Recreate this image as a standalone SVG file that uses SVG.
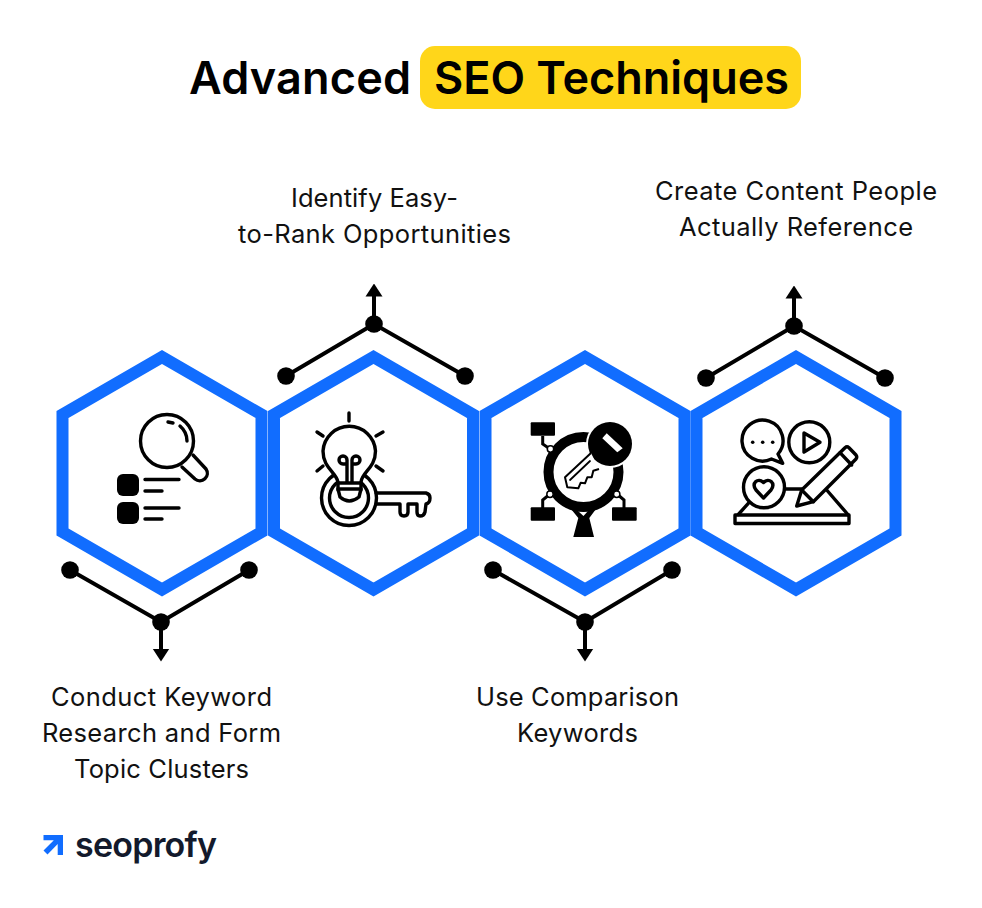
<svg xmlns="http://www.w3.org/2000/svg" width="982" height="908" viewBox="0 0 982 908">
<style>
.hex{fill:#fff;stroke:#116dff;stroke-width:12;stroke-linejoin:miter}
.lab{font-family:"Inter","Liberation Sans",sans-serif;font-size:25.500px;font-weight:400;fill:#111;text-anchor:middle}
.ttl{font-family:"Inter","Liberation Sans",sans-serif;font-size:45px;font-weight:600;fill:#000}
.c{fill:none;stroke:#000;stroke-width:4}
.i{fill:none;stroke:#000;stroke-width:3.400;stroke-linecap:round;stroke-linejoin:round}
.w{fill:#fff;stroke:#000;stroke-width:3.400;stroke-linejoin:round}
.k{fill:#000}
</style>
<defs>
<polygon id="hexa" class="hex" points="0,-116 99.500,-58.500 99.500,59 0,116.500 -99.500,59 -99.500,-58.500"/>
<marker id="ah" viewBox="0 0 13 18" refX="0.500" refY="9" markerWidth="13" markerHeight="18" markerUnits="userSpaceOnUse" orient="auto"><path d="M0 0.500L13 9L0 17.500Z" fill="#000"/></marker>
</defs>
<rect width="982" height="908" fill="#fff"/>
<g id="title">
<rect x="420" y="46" width="381" height="63" rx="15" fill="#ffd61a"/>
<text class="ttl" x="189" y="94" textLength="222">Advanced</text>
<text class="ttl" x="434" y="94" textLength="355">SEO Techniques</text>
</g>
<g id="connectors">
<path class="c" d="M70 570L161 622L249 570M161 622V649" marker-end="url(#ah)"/>
<path class="c" d="M286 376L374 324L465 376M374 324V296" marker-end="url(#ah)"/>
<path class="c" d="M493 570L585 622L672 570M585 622V649" marker-end="url(#ah)"/>
<path class="c" d="M706 378L794 326L885 378M794 326V298" marker-end="url(#ah)"/>
<g class="k">
<circle cx="70" cy="570" r="8.800"/><circle cx="249" cy="570" r="8.800"/><circle cx="161" cy="622" r="8.800"/>
<circle cx="286" cy="376" r="8.800"/><circle cx="465" cy="376" r="8.800"/><circle cx="374" cy="324" r="8.800"/>
<circle cx="493" cy="570" r="8.800"/><circle cx="672" cy="570" r="8.800"/><circle cx="585" cy="622" r="8.800"/>
<circle cx="706" cy="378" r="8.800"/><circle cx="885" cy="378" r="8.800"/><circle cx="794" cy="326" r="8.800"/>
</g>
</g>
<g id="node-1">
<use href="#hexa" x="162" y="473"/>
<circle class="i" cx="167" cy="441" r="26.500"/>
<path class="i" d="M193 455L206 469A7.500 7.500 0 0 1 195 479L182 467"/>
<path class="i" d="M168 422L173 423M180 426Q187 432 187 441"/>
<rect class="k" x="117" y="474" width="22" height="22" rx="6"/>
<rect class="k" x="117" y="502" width="22" height="22" rx="6"/>
<path class="i" d="M145 479.500H179M145 491H162M145 508H179M145 519H162"/>
<text class="lab" x="161.500" y="706" textLength="221">Conduct Keyword</text>
<text class="lab" x="161.500" y="742" textLength="239">Research and Form</text>
<text class="lab" x="161.500" y="778" textLength="175">Topic Clusters</text>
</g>
<g id="node-2">
<use href="#hexa" x="373.500" y="473"/>
<path class="i" d="M349 413V421M317 432L323 436M383 432L376 436M317 471L323 466M383 471L376 466"/>
<circle class="i" cx="349" cy="498" r="27.500"/>
<circle class="i" cx="349" cy="498" r="19.500"/>
<path class="w" d="M338 482C336 472 323 468 323 451A26.300 26.300 0 0 1 375.500 451C375.500 468 362 472 361 482V490H338Z"/>
<path class="w" d="M338 489H361L359 497Q349 505 340 497Z"/>
<path class="i" d="M338 483H361M347 482V464H343A4 4 0 1 1 347 460V464M352 482V464H356A4 4 0 1 0 352 460V464"/>
<path class="i" d="M376 493H426Q430 494 430 498Q430 503 426 504L425 512Q424 516 420 516Q417 516 417 512V504H408V512Q408 516 404 516Q400 516 400 512V504H376"/>
<text class="lab" x="374.500" y="207" textLength="167">Identify Easy-</text>
<text class="lab" x="374.500" y="243" textLength="273">to-Rank Opportunities</text>
</g>
<g id="node-3">
<use href="#hexa" x="585" y="473"/>
<path class="k" d="M573.300 537H594L589.300 518L596 509H571L578.300 518Z"/>
<path d="M578 511H588L583.500 516Z" fill="#fff"/>
<circle cx="583.500" cy="472" r="35" fill="none" stroke="#000" stroke-width="10"/>
<path class="c" style="stroke-width:3" d="M542.700 436V444L550 449M550 494L542.700 500V508M617 494L624 500V508"/>
<rect class="k" x="530.700" y="422.300" width="24.300" height="13.400" rx="1"/>
<rect class="k" x="530.700" y="507.300" width="24.300" height="13.400" rx="1"/>
<rect class="k" x="612" y="507.300" width="24.700" height="13.400" rx="1"/>
<circle cx="550.500" cy="449" r="3.200" fill="#fff" stroke="#000" stroke-width="1.500"/>
<circle cx="550" cy="494.300" r="3.200" fill="#fff" stroke="#000" stroke-width="1.500"/>
<circle cx="616.700" cy="494.300" r="3.200" fill="#fff" stroke="#000" stroke-width="1.500"/>
<circle cx="610" cy="444" r="24" fill="#fff"/>
<circle class="k" cx="610" cy="444" r="22"/>
<polygon points="606.700,433.300 622.700,448.300 617.300,452.300 602.300,438.300" fill="#fff"/>
<path class="w" style="stroke-width:2" d="M591 453L565 477.300L567.300 487.300L578.300 488.300L580.700 482.700L585 483.300L587.300 477.300L591.700 477.300L593.300 470.700L599 469"/>
<path class="i" style="stroke-width:1.800" d="M570 480L590 461"/>
<text class="lab" x="577.500" y="706" textLength="203">Use Comparison</text>
<text class="lab" x="577.500" y="742" textLength="121">Keywords</text>
</g>
<g id="node-4">
<use href="#hexa" x="796" y="473"/>
<path class="i" d="M748.300 503.300L738.300 514.500M785 489H801.700M826.700 490L848.300 515"/>
<rect class="i" x="735" y="515" width="114" height="8.500"/>
<path class="i" d="M782.700 463.300L778 454A20.500 20.500 0 1 0 771.500 459Z"/>
<circle class="k" cx="752.700" cy="442.300" r="1.800"/><circle class="k" cx="762.700" cy="442.300" r="1.800"/><circle class="k" cx="772.700" cy="442.300" r="1.800"/>
<circle class="i" cx="809.300" cy="442.300" r="20.500"/>
<path class="i" d="M804 433L820 442.300L804 452Z"/>
<circle class="i" cx="764" cy="487.300" r="20.500"/>
<path class="i" d="M763.500 498L756 490C751 483 758 477 763.500 482.500C769 477 776 483 771 490Z"/>
<path class="w" d="M796.700 506L801.700 490L845 447.700Q847 446 849 447.700L856 455Q857.500 457 856 459L813.300 501.700Z"/>
<path class="i" d="M840 452.700L851.700 465M801.700 490L813.300 501.700"/>
<text class="lab" x="796" y="200" textLength="282">Create Content People</text>
<text class="lab" x="796" y="236" textLength="234">Actually Reference</text>
</g>
<g id="logo">
<path d="M43.500 835H63V855H57.700V844L47.500 854.500L43.500 850.500L53.800 840.300H43.500Z" fill="#116dff"/>
<text x="75" y="857" textLength="142" style="font-family:Inter,'Liberation Sans',sans-serif;font-size:34px;font-weight:600;fill:#131a2c">seoprofy</text>
</g>
</svg>
